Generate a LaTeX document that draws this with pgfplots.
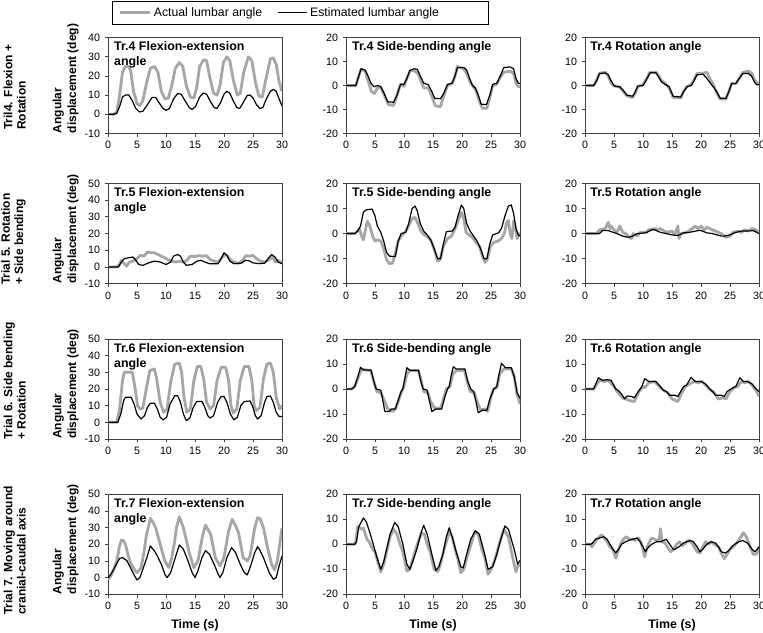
\documentclass[border=0pt]{standalone}
\usepackage{fontspec}
\setmainfont{Liberation Sans}
\usepackage{pgfplots}
\pgfplotsset{compat=1.18}
\definecolor{actgray}{HTML}{A6A6A6}

\pgfplotsset{
  panel/.style={
    scale only axis, width=130.5pt, anchor=south west,
    xmin=0, xmax=30, xtick={0,5,10,15,20,25,30}, xticklabels={0,5,10,15,20,25,30},
    axis line style={black!75, line width=0.6pt},
    tick style={black!75, line width=0.6pt},
    tick align=outside, major tick length=2.5pt,
    xtick pos=left, ytick pos=left,
    ticklabel style={font=\fontsize{8}{9.6}\selectfont},
  },
  fe/.style={ymin=-10, ymax=50, ytick={-10,0,10,20,30,40,50}, yticklabels={-10,0,10,20,30,40,50}},
  sb/.style={ymin=-20, ymax=20, ytick={-20,-10,0,10,20}, yticklabels={-20,-10,0,10,20}},
  first/.style={ylabel={Angular\\displacement (deg)},
    ylabel style={at={(axis description cs:-0.167,0)}, anchor=south west, align=left, inner sep=0pt,
      font=\bfseries\fontsize{9}{11}\selectfont}},
  last/.style={xlabel={Time (s)}, xlabel style={font=\bfseries\fontsize{9.3}{11}\selectfont}},
  act/.style={color=actgray, line width=2.1pt, line join=round, no marks},
  est/.style={color=black, line width=0.9pt, line join=round, no marks},
}
\tikzset{ttl/.style={anchor=north west, align=left, inner sep=0pt, font=\bfseries\fontsize{9.3}{11.2}\selectfont}}
\newcommand{\rowlab}[2]{\node[rotate=90, anchor=south west, align=left, inner sep=0pt,
  font=\bfseries\fontsize{9}{10}\selectfont] at (19.5pt,#1) {#2};}

\begin{document}
\begin{tikzpicture}
\useasboundingbox (0,0) rectangle (572.25pt,474pt);

% ---- row 1: trial 4
\begin{axis}[panel, first, at={(81pt,374pt)}, height=71.7pt,
  ymin=-10, ymax=40, ytick={-10,0,10,20,30,40}, yticklabels={-10,0,10,20,30,40},
  legend columns=2,
  legend style={at={(axis description cs:0.023,1.384)}, anchor=north west, draw=black, line width=0.6pt,
    font=\fontsize{9.2}{11}\selectfont, inner xsep=5pt, inner ysep=2.5pt,
    /tikz/every even column/.append style={column sep=9pt}},
  legend image code/.code={\draw[#1] (0pt,0pt) -- (22pt,0pt);}]
\addplot[act] coordinates {(0,0)(1,0)(1.5,1)(2,10)(2.5,22)(3,25)(3.5,25)(3.9,23)(4.4,12)(5,5.5)(5.5,4.5)(6,7)(6.7,17)(7.3,24)(8,25)(8.6,22)(9.2,12)(9.8,8)(10.4,8.5)(11,15)(11.6,24)(12.3,27)(12.9,25)(13.5,15)(14.2,9)(14.8,8.5)(15.3,14)(15.8,25)(16.5,28.5)(17,28)(17.5,20)(18.2,11)(18.8,10)(19.3,15)(19.9,27)(20.5,30)(21,28)(21.6,18)(22.3,10)(22.8,11)(23.4,22)(24.2,30)(24.8,28)(25.4,17)(26,9.5)(26.6,9)(27.2,18)(28,29)(28.5,29.5)(29,26)(29.5,17)(30,12)};
\addlegendentry{Actual lumbar angle}
\addplot[est] coordinates {(0,0)(1,0)(1.5,0.5)(2,4)(2.5,9)(3,10)(3.6,10)(4.2,7)(4.8,3)(5.4,1.2)(6,1.5)(6.8,5)(7.6,8.8)(8.2,8.8)(8.8,6)(9.5,3)(10,2)(10.6,3)(11.3,8)(12,10.8)(12.6,10.5)(13.3,7)(14,3.5)(14.5,2.5)(15.1,4)(15.8,9)(16.4,11)(17,10.5)(17.6,7)(18.3,3.5)(18.8,3)(19.4,6)(20,10.5)(20.5,12)(21,11)(21.6,7)(22.2,3.5)(22.7,3)(23.3,6)(24,9.8)(24.5,10)(25,8.5)(25.6,5)(26.2,3)(26.7,3.5)(27.3,8)(28,12)(28.5,13)(29,12)(29.5,8)(30,4.3)};
\addlegendentry{Estimated lumbar angle\hspace*{30pt}}
\node[ttl] at (axis description cs:0.034,0.958) {Tr.4 Flexion-extension\\angle};
\end{axis}

\begin{axis}[panel, sb, at={(259.5pt,374pt)}, height=71.7pt]
\addplot[act] coordinates {(0,0)(1.7,0)(2.2,4)(2.6,6.8)(3.3,6)(3.8,2)(4.4,-2.5)(4.9,-3.3)(5.4,-1)(6,-0.8)(6.6,-4)(7.3,-8)(8.2,-8.3)(8.8,-4)(9.4,0.5)(10,-0.3)(10.5,3)(11.1,6.3)(11.8,6.2)(12.4,5)(12.9,2)(13.4,-1)(14.2,-1)(14.8,-4.5)(15.4,-8.5)(16.3,-8.8)(16.9,-4)(17.5,0)(18.3,0.8)(18.8,4)(19.2,8)(20.3,7)(20.8,5)(21.3,2)(21.8,0)(22.4,-2)(23,-6.5)(23.5,-9.5)(24.3,-9.5)(24.8,-5)(25.3,0)(26,0.5)(26.6,3.5)(27.2,5.5)(28.3,6)(28.9,5)(29.3,1)(29.7,-0.5)(30,-0.5)};
\addplot[est] coordinates {(0,0)(1.7,0)(2.2,4)(2.6,7)(3.3,6.5)(3.8,4)(4.3,1)(4.8,-0.5)(5.5,0)(6,-0.5)(6.6,-3.5)(7.2,-6.8)(8.2,-7)(8.8,-4)(9.4,0.5)(10,0.5)(10.5,3)(11,6.3)(11.7,7)(12.3,6.8)(12.8,4)(13.4,1)(14.2,0.3)(14.8,-2.5)(15.3,-5.4)(16.3,-5.5)(16.9,-3)(17.5,0.5)(18.3,1)(18.8,4)(19.2,7.5)(20.3,7.5)(20.8,6.5)(21.3,3)(21.8,0)(22.3,-1)(22.8,-4)(23.3,-7.8)(24.2,-8)(24.8,-4)(25.3,0.5)(26,1)(26.6,4)(27.2,7.5)(28.3,7.8)(28.9,7)(29.3,3)(29.7,1)(30,0.8)};
\node[ttl] at (axis description cs:0.034,0.958) {Tr.4 Side-bending angle};
\end{axis}

\begin{axis}[panel, sb, at={(438.75pt,374pt)}, height=71.7pt]
\addplot[act] coordinates {(0,0)(1.5,0)(2,2.3)(2.5,5.2)(3.5,5.5)(4,4)(4.5,1)(5,-0.3)(5.5,-0.2)(6,-0.8)(6.6,-2.5)(7.2,-4.3)(8.2,-5)(8.6,-3.5)(9.1,-0.5)(10,0.3)(10.5,2.5)(11.2,5.5)(12.2,5.6)(12.6,4.5)(13.2,2)(13.8,1)(14.5,-1)(15.2,-5)(16.5,-5.2)(17,-2.5)(17.6,-0.3)(18.3,0.3)(18.8,2.5)(19.3,5)(20.4,5.2)(21,5.6)(21.6,2.5)(22.2,0)(22.8,-3.5)(23.3,-5.6)(24.3,-5.6)(24.8,-2.5)(25.3,1)(26,0.8)(26.6,3)(27.2,5.5)(28.2,6)(28.7,5.2)(29.2,2.5)(29.6,1)(30,1)};
\addplot[est] coordinates {(0,0)(1.5,0)(2,2)(2.5,5)(3.5,5.3)(4,4.5)(4.5,2)(5,0)(5.5,-0.5)(6,-0.5)(6.6,-2)(7.2,-4)(8.2,-4.5)(8.6,-3)(9.1,-0.2)(10,0)(10.5,2)(11.2,5.3)(12.2,5.4)(12.6,4)(13.2,1.5)(13.8,0.5)(14.5,-0.5)(15.2,-4.5)(16.5,-4.8)(17,-2.5)(17.6,-0.5)(18.3,0)(18.8,2)(19.3,4.5)(20.4,4.7)(21,3)(21.6,1)(22.2,-0.8)(22.8,-3)(23.3,-5.3)(24.3,-5.4)(24.8,-2.5)(25.3,0.8)(26,0.8)(26.6,3)(27.2,5)(28.2,5)(28.7,4)(29.2,1.5)(29.6,0.3)(30,0.3)};
\node[ttl] at (axis description cs:0.03,0.958) {Tr.4 Rotation angle};
\end{axis}

% ---- row 2: trial 5
\begin{axis}[panel, first, fe, at={(81pt,261.2pt)}, height=75.2pt]
\addplot[act] coordinates {(0,0)(1.5,0)(2,1.5)(2.3,4)(2.8,2)(3.2,0.5)(3.7,3)(4.3,3.5)(5,5)(5.6,7)(6.2,6.5)(6.8,9)(7.4,8.5)(8,8.5)(8.6,7.5)(9.2,6.5)(9.8,5.5)(10.3,4.5)(11,3.5)(11.6,3)(12.4,3.5)(13,3)(13.6,4)(14.2,6.5)(15,6.3)(15.6,6.8)(16.4,6.5)(17,6.8)(17.6,4.5)(18.3,3.5)(19,3)(19.6,5.5)(20.1,7.5)(20.6,6.5)(21.2,4)(21.8,2.8)(22.5,2.2)(23.2,4)(23.8,6.8)(24.4,6.5)(25,7)(25.6,5)(26.3,3.5)(27,3)(27.6,4)(28.4,6)(28.8,3)(29.3,4)(30,2.5)};
\addplot[est] coordinates {(0,0)(1.8,0)(2.3,3)(2.8,5)(3.5,5.5)(4.3,6)(4.8,4)(5.3,1.5)(6,1)(7,2.5)(8,3.5)(9,3)(10,1.5)(10.8,3)(11.3,6.5)(12,7.5)(12.5,6.5)(13,3)(13.5,1)(14.5,1.5)(15.3,3.5)(16,4)(16.7,3)(17.5,2)(19,2)(19.5,5)(20,8.5)(20.5,7)(21,3.5)(21.7,2)(23,2.3)(23.7,4)(24.3,3.8)(25,2.5)(26,2)(27,2.3)(27.6,5)(28.2,7.5)(28.8,6)(29.3,3)(30,2)};
\node[ttl] at (axis description cs:0.034,0.958) {Tr.5 Flexion-extension\\angle};
\end{axis}

\begin{axis}[panel, sb, at={(259.5pt,261.2pt)}, height=75.2pt]
\addplot[act] coordinates {(0,0)(1.5,0)(2,1)(2.3,2)(2.7,-1)(3,-2.5)(3.3,1)(3.7,5)(4.1,3)(4.6,-1)(5,-3)(5.5,-2.5)(6,-3)(6.5,-6)(7,-10.5)(7.5,-12)(8,-11.8)(8.5,-8)(9,-3)(9.5,-1)(10.3,1)(10.8,3)(11.4,6)(11.9,6.5)(12.4,4)(12.9,1)(13.5,-0.5)(14.2,-1.5)(14.7,-3)(15.3,-7)(15.8,-11)(16.2,-10.5)(16.8,-5)(17.5,-2)(18.2,-1)(18.8,2)(19.4,5.5)(19.9,8.5)(20.3,6)(20.7,0.5)(21.2,-0.5)(21.8,-1.5)(22.4,-3.5)(23,-5)(23.5,-9)(24,-11.5)(24.4,-10)(24.9,-5)(25.5,-3.5)(26.2,-3)(26.8,-2)(27.3,0)(27.7,4.5)(28,5.2)(28.3,0)(28.6,-2)(28.9,5)(29.2,3)(29.5,-2)(29.8,0)(30,-0.5)};
\addplot[est] coordinates {(0,0)(1.5,0)(2,1)(2.5,3)(3,8.5)(3.5,9.5)(4.5,9.8)(5,7)(5.4,3)(6,0.5)(6.5,-3)(7,-7.5)(7.5,-9)(8.5,-9.2)(9,-3)(9.5,0)(10.3,0.5)(10.8,4)(11.4,10)(11.9,11)(12.3,9)(12.8,4)(13.4,1)(14,-0.5)(14.6,-2.5)(15.2,-6)(15.8,-10)(16.3,-10)(16.8,-4)(17.3,0.8)(18.3,1)(18.8,2.5)(19.3,7)(19.9,11.4)(20.3,10)(20.8,4)(21.4,1)(22,-1)(22.6,-3)(23.2,-6)(23.8,-10)(24.3,-10)(24.8,-4)(25.3,-0.5)(26.3,0.3)(26.8,2)(27.4,7)(28,11)(28.5,11.4)(28.9,8)(29.3,2)(29.7,-0.5)(30,-1)};
\node[ttl] at (axis description cs:0.034,0.958) {Tr.5 Side-bending angle};
\end{axis}

\begin{axis}[panel, sb, at={(438.75pt,261.2pt)}, height=75.2pt]
\addplot[act] coordinates {(0,0)(2,0)(2.5,1.5)(3.5,2)(4,4.5)(4.3,2)(4.5,3)(5,1.5)(5.5,0.5)(6,3)(6.5,0.5)(7,0)(7.5,-1)(8,-2)(8.3,0)(9,-1)(9.5,0.5)(10.5,0.5)(11,1.5)(12,2)(12.5,1.5)(13,2)(14,0.5)(15,1)(15.5,-0.5)(16,3)(16.2,-2)(16.5,0)(17.5,0.5)(18.5,2)(19,3)(19.5,2)(20,3)(20.5,1.5)(21,2.5)(22,1.5)(22.5,1)(23.5,0)(24.3,-1.5)(25,-1)(25.5,0.5)(26.5,1)(27,0.5)(27.5,1.5)(28,1)(28.8,2)(29.5,1.5)(30,0.5)};
\addplot[est] coordinates {(0,0)(2.5,0)(3,1.2)(4,1.2)(5.5,0)(6.5,-1)(7.5,-1.5)(8.2,-1)(9,0)(10.5,0.3)(11.5,1.5)(12,1.5)(13,0.5)(14,0)(15,-0.5)(16,-0.8)(17,0.3)(18,0.5)(19.5,1.2)(20,1.2)(21,0.3)(22,0)(23.5,-1)(24,-1)(25,-0.5)(26,0.5)(27,1)(28,1)(29,1.2)(30,0)};
\node[ttl] at (axis description cs:0.03,0.958) {Tr.5 Rotation angle};
\end{axis}

% ---- row 3: trial 6
\begin{axis}[panel, first, fe, at={(81pt,144.75pt)}, height=75pt]
\addplot[act] coordinates {(0,0)(1.5,0)(2,8)(2.5,25)(2.8,30)(4.2,30)(4.6,22)(5.1,10)(5.5,8)(6,8.5)(6.6,20)(7.2,31)(8,32)(8.4,26)(9,12)(9.6,6)(10.2,8)(10.8,24)(11.5,35)(12.3,35.5)(12.7,30)(13.1,15)(13.6,6)(14.2,8)(14.8,25)(15.4,33.5)(16,33.5)(16.5,26)(17,12)(17.6,8)(18.2,10)(18.8,25)(19.5,33)(20.3,33)(20.8,25)(21.2,10)(21.6,5.5)(22.2,8)(22.8,25)(23.5,33.5)(24.3,33.5)(24.8,25)(25.2,10)(25.6,7)(26.2,9)(26.8,26)(27.4,35)(28,35.5)(28.5,30)(29,15)(29.6,8)(30,10)};
\addplot[est] coordinates {(0,0)(1.7,0)(2.2,5)(2.7,13)(3,15)(4,15)(4.5,11)(5,5)(5.7,2)(6.3,4)(6.8,9)(7.3,11.5)(8,11.5)(8.5,8)(9,3)(9.5,1.5)(10.1,3)(10.7,11)(11.5,16)(12,16)(12.5,12)(13,5)(13.5,1)(14.1,2.5)(14.7,9)(15.3,12.5)(16.2,12.5)(16.7,9)(17.2,4)(17.6,2.5)(18.2,4)(18.9,12)(19.5,15.5)(20,15.5)(20.5,12)(21.1,5)(21.7,1.5)(22.3,3)(22.9,10)(23.5,12.5)(24.5,12.8)(25,9)(25.4,4)(25.8,2)(26.4,4)(27,12)(27.4,15.5)(28,15.8)(28.5,12)(29,6)(29.5,3.5)(30,3.5)};
\node[ttl] at (axis description cs:0.034,0.958) {Tr.6 Flexion-extension\\angle};
\end{axis}

\begin{axis}[panel, sb, at={(259.5pt,144.75pt)}, height=75pt]
\addplot[act] coordinates {(0,0)(1,0)(1.5,1)(2,4)(2.6,7.5)(3,7.8)(4.3,7.3)(4.8,3)(5.3,-1)(6,-1.5)(6.5,-4)(7.2,-8)(8,-9)(8.5,-8)(9,-5)(9.5,-1.5)(10,1)(10.5,6)(11,7.3)(12.5,7.3)(13,3)(13.4,-1)(14.1,-1.5)(14.6,-5)(15.2,-7.5)(16.3,-7.8)(16.8,-4)(17.3,0)(17.9,1)(18.4,6)(19,7.3)(20.4,7.5)(20.9,3)(21.4,-1)(22.1,-1.5)(22.6,-5)(23.2,-8.3)(24,-8)(24.4,-9)(24.9,-4)(25.4,0)(26,0.5)(26.5,6)(27.2,8)(28.5,8)(29,5)(29.5,-2)(30,-6)};
\addplot[est] coordinates {(0,0)(1,0)(1.5,1)(2,4.5)(2.5,8.7)(3,7.6)(4.3,7.6)(4.8,3)(5.2,0)(6,-0.5)(6.3,-4)(6.7,-9)(7.5,-9)(7.8,-8)(8.5,-8)(9,-4.5)(9.5,-1)(9.8,0)(10.2,5)(10.5,8.5)(11,7.5)(12.5,7.5)(12.9,3)(13.3,0)(14,-0.5)(14.4,-5)(14.8,-9)(15.5,-8)(16.5,-8)(17,-3.5)(17.5,0)(17.8,1)(18.2,6)(18.5,8.9)(19,8)(20.5,8)(21,3)(21.5,0)(22,-1)(22.4,-5)(22.8,-9.5)(23.5,-8.5)(24.3,-8.5)(24.8,-4)(25.5,0)(26,1)(26.4,6)(26.8,10.3)(27.5,8.5)(28.5,8.5)(29,5)(29.5,-1.6)(30,-3.6)};
\node[ttl] at (axis description cs:0.034,0.958) {Tr.6 Side-bending angle};
\end{axis}

\begin{axis}[panel, sb, at={(438.75pt,144.75pt)}, height=75pt]
\addplot[act] coordinates {(0,0)(1.5,0)(2.5,3.5)(3.3,3)(4,3.5)(5,1)(5.5,-1)(6.5,-3.5)(7.5,-4.5)(8.5,-5)(9.3,-1)(10,1)(10.3,0.5)(11,2.5)(12,3)(12.8,1)(13.5,-0.5)(14.3,-1.5)(15,-4)(16,-5)(16.7,-1.5)(17.3,1)(18,2)(18.8,3)(19.5,2.5)(20.2,3)(20.8,1.5)(21.7,-0.5)(22.3,-1.5)(23,-4)(23.8,-3.5)(24.3,-4)(25,-1)(25.7,0.5)(26.3,1)(27,3)(27.5,2.5)(28.2,3)(28.8,1.5)(29.5,-0.5)(30,-3)};
\addplot[est] coordinates {(0,0)(1.5,0)(2.3,4.5)(3,3.5)(3.8,3.7)(4.5,3.5)(5.3,0)(5.7,-0.5)(6.3,-2)(6.8,-3.9)(7.3,-2.8)(8,-3)(8.5,-3.5)(9.2,-1)(9.8,1)(10.3,4.1)(11,3)(12.2,3)(13,1)(13.5,-0.5)(14,-1)(14.6,-2.5)(15.5,-2.5)(16,-3)(16.5,-1)(17,1)(17.5,1.5)(18.3,4.7)(19,3)(20,3)(20.8,2)(21.5,0)(22,-1)(22.5,-2.5)(23.5,-2.5)(24,-3)(24.5,-1)(25.5,0.5)(26,1)(26.7,4.5)(27.3,3)(28,3)(28.8,2)(29.5,0)(30,-1)};
\node[ttl] at (axis description cs:0.03,0.958) {Tr.6 Rotation angle};
\end{axis}

% ---- row 4: trial 7
\begin{axis}[panel, first, last, fe, at={(81pt,28.3pt)}, height=75pt]
\addplot[act] coordinates {(0,-1)(0.5,1)(1,5)(1.5,10)(2,19)(2.3,22.5)(2.7,22)(3,20)(3.5,13)(4,8)(4.5,5)(5,3)(5.7,6)(6.2,15)(6.6,25)(7.3,35.5)(7.8,33)(8.2,30)(9,20)(9.8,10)(10.5,6)(11,12)(11.5,22)(11.8,30)(12.3,36.5)(13,30)(14,15)(14.8,6)(15.5,10)(16.3,25)(16.8,31.5)(17.7,26)(18.5,12)(19.3,7)(20,12)(20.8,28)(21.4,35)(22,31)(22.5,27)(23.3,12)(24,10)(24.5,13)(25.3,30)(25.8,36)(26.2,35.5)(26.8,30)(27.5,18)(28.2,8)(28.7,4.6)(29.2,10)(29.6,20)(30,29.8)};
\addplot[est] coordinates {(0,0)(0.5,2)(1,5)(1.6,9)(2,11.5)(2.5,12)(3.3,10)(4,5)(4.6,1)(5,-1.4)(5.5,0)(6,5)(6.7,12)(7.3,19)(8,16)(8.5,13)(9.2,8)(9.8,2)(10.2,0)(10.8,3)(11.6,12)(12.3,19.6)(13,17)(13.8,10)(14.5,3)(15,0)(15.5,4)(16.2,12)(16.8,16.2)(17.5,14)(18.3,8)(19,2)(19.3,0)(19.8,3)(20.5,12)(21.3,18)(22,15)(22.8,8)(23.5,3)(24,1.6)(24.5,6)(25.3,15)(25.8,18.5)(26.1,17)(26.8,12)(27.8,3)(28.5,-1)(29,0)(29.5,7)(30,13)};
\node[ttl] at (axis description cs:0.034,0.958) {Tr.7 Flexion-extension\\angle};
\end{axis}

\begin{axis}[panel, last, sb, at={(259.5pt,28.3pt)}, height=75pt]
\addplot[act] coordinates {(0,0)(1.5,0)(1.7,1)(2,7)(2.8,6)(3,6.5)(3.6,2)(4,1)(4.2,0)(4.6,-2)(5,-3)(5.6,-8)(6,-11)(6.5,-8)(7,-3)(7.6,3)(8.2,6)(8.8,4)(9.3,0)(9.8,-3)(10.5,-10.7)(11,-10)(11.5,-6)(12.3,0)(13,4.5)(13.5,4)(14,0)(14.5,-3)(15.2,-10)(15.8,-11)(16.3,-8)(16.8,-3)(17.3,1)(17.8,5)(18.3,3)(18.8,-2)(19.3,-6)(19.8,-11.4)(20.3,-10)(21,-4)(21.7,1)(22.2,5)(22.8,4)(23.4,-2)(23.9,-5)(24.5,-12)(25,-10)(25.7,-6)(26.4,0)(27.2,6)(28,3)(28.8,-6)(29.3,-11)(29.6,-9)(30,-8)};
\addplot[est] coordinates {(0,0)(1.5,0)(1.8,1)(2.2,7)(3,10.5)(3.5,9)(4.2,4)(4.7,0)(5.3,-5)(6,-10)(6.5,-7)(7,-2)(7.6,4)(8.4,8.7)(9,7)(9.8,0)(10.5,-8)(11,-10)(11.5,-7)(12.2,-2)(13,5)(13.4,7.6)(14,4)(14.8,-4)(15.5,-10.5)(16,-9)(16.7,-4)(17.3,3)(17.8,6.6)(18.3,3)(19,-3)(19.8,-9)(20.2,-9.5)(20.8,-4)(21.5,2)(22.3,5.4)(23,4)(23.8,-3)(24.5,-10)(25.3,-9)(26,-4)(26.7,2)(27.4,7.3)(28,6)(29,-2)(29.6,-8)(30,-6.5)};
\node[ttl] at (axis description cs:0.034,0.958) {Tr.7 Side-bending angle};
\end{axis}

\begin{axis}[panel, last, sb, at={(438.75pt,28.3pt)}, height=75pt]
\addplot[act] coordinates {(0,0)(0.8,0)(1.2,-1)(1.7,1)(2.3,2.5)(2.8,3.8)(3.2,3)(3.8,1)(4.3,-1)(4.8,-2)(5.3,-5.5)(5.8,-2)(6.2,0.5)(6.8,2.5)(7.2,3)(7.6,2)(8.2,2)(8.6,1.5)(9.2,2.5)(9.6,1)(10,-2)(10.3,-5)(10.6,-2)(11,0.5)(11.5,2.5)(12,2)(12.4,1.5)(12.8,2)(13,6.2)(13.3,1)(13.8,0.5)(14.3,-1.5)(14.8,-3)(15.3,-2)(15.8,0)(16.3,1)(16.8,-0.5)(17.3,0.5)(17.8,1.5)(18.3,1)(18.8,-1)(19.3,-3)(19.8,-3.5)(20.3,-1)(20.8,1)(21.3,0)(21.8,1)(22.3,0)(23,-1)(23.5,-3.5)(24,-5.8)(24.5,-4)(25,-2)(25.6,-1)(26.3,1)(26.9,3)(27.3,4.6)(27.8,3)(28.5,-1)(29,-4)(29.5,-4)(29.8,-3)(30,-1)};
\addplot[est] coordinates {(0,0)(1,0)(1.3,0.5)(1.8,2)(2.5,2.5)(3.2,3)(3.8,2)(4.3,0)(4.8,-2)(5.3,-3.4)(5.8,-2)(6.3,0)(7,1)(7.5,1.5)(8.2,2)(9,2.5)(9.5,1)(10,-1)(10.4,-3)(10.8,-1.5)(11.5,0)(12.3,1)(13,1)(13.5,1.5)(14,2)(14.6,0)(15.2,-2)(15.5,-2)(16.2,-1)(17,0.5)(17.5,1)(18.2,1.5)(18.7,1)(19.3,-1)(19.8,-3)(20.3,-2)(21,0)(21.7,1)(22.5,0.5)(23,-1)(23.5,-3)(24.2,-3.5)(24.8,-2.5)(25.5,-0.5)(26.5,1)(27.2,1.5)(28,0.5)(28.8,-2)(29.3,-3)(29.7,-2)(30,-1)};
\node[ttl] at (axis description cs:0.03,0.958) {Tr.7 Rotation angle};
\end{axis}

\rowlab{376.5pt}{Tril4. Flexion +\\Rotation}
\rowlab{260.25pt}{Trial 5. Rotation\\+ Side bending}
\rowlab{144pt}{Trial 6. Side bending\\+ Rotation}
\rowlab{12.75pt}{Trial 7. Moving around\\cranial-caudal axis}
\end{tikzpicture}
\end{document}
